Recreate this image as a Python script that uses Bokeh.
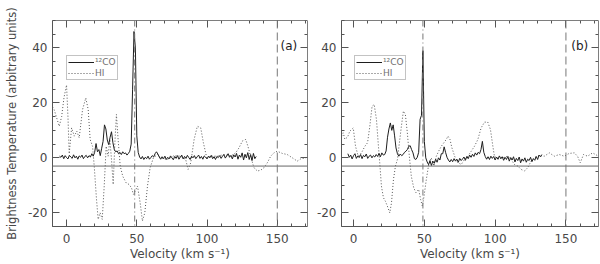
import numpy as np
from bokeh.plotting import figure
from bokeh.models import (LinearAxis, Span, Range1d, Legend, LegendItem,
                          FixedTicker, Label)
from bokeh.layouts import row
from bokeh.embed import file_html
from bokeh.resources import INLINE

FONT = "DejaVu Sans"

# ---------------- data ----------------
# 12CO spectra: channel velocities start at CO_*_START, 1 km/s channels
CO_STEP = 1.0
CO_A_START = -5.0
CO_A = [0.6, 0.2, 1.0, -0.3, 0.8, 0.1, -0.4, 0.9, 0.3, -0.2,
        1.1, 0.0, 0.6, -0.5, 0.7, 0.2, 1.0, -0.3, 0.5, 0.9,
        0.0, 0.8, 0.3, 1.5, 0.6, 2.0, 5.2, 2.2, 3.0, 0.8,
        3.5, 6.0, 12.0, 10.5, 6.5, 4.8, 7.5, 9.5, 5.5, 3.0,
        2.2, 2.5, 1.5, 2.0, 1.2, 2.2, 1.5, 1.8, 1.0, 1.6,
        2.4, 5.0, 25.0, 46.0, 40.0, 8.0, 2.0, 0.3, -0.4, 0.5,
        -0.6, 0.2, -0.3, 0.6, -0.5, 0.1, 0.8, 0.3, 1.5, 2.2,
        1.4, 0.3, -0.5, 0.4, -0.3, 0.6, -0.6, 0.2, -0.4, 0.7,
        0.0, -0.7, 0.5, -0.2, 0.8, -0.5, 0.3, 1.0, -0.4, 0.5,
        -0.2, 0.9, 0.1, -0.6, 0.6, 0.0, 0.8, -0.3, 0.4, 1.0,
        -0.2, 0.5, -0.5, 0.7, 0.2, -0.4, 0.6, 0.0, 0.9, -0.3,
        0.4, -0.6, 0.5, 0.1, 0.8, -0.2, 0.6, 1.2, -0.1, 0.7,
        1.5, 0.2, 0.9, -0.4, 1.1, 0.3, 1.6, -0.5, 1.0, 0.2,
        1.8, -0.8, 1.3, 0.0, 1.9, -0.6, 1.2, -1.0, 1.6, -0.3,
        0.5]

CO_B_START = -4.0
CO_B = [1.5, 0.2, 1.0, -0.4, 0.8, 1.5, -0.2, 0.7, 0.1, 1.2,
        -0.3, 0.9, 0.4, 1.4, -0.2, 0.6, 1.0, 0.0, 0.8, 0.3,
        1.2, 0.5, 1.6, 0.4, 1.8, 1.0, 1.2, 2.5, 7.5, 10.5,
        12.7, 10.0, 12.0, 8.0, 3.6, 1.5, 0.6, 1.4, 0.8, 1.2,
        2.0, 2.4, 3.0, 4.2, 4.4, 3.0, 1.8, -0.3, -0.6, 0.2,
        2.0, 14.0, 15.5, 39.0, 6.0, 0.0, -1.5, -2.5, -1.0, -2.8,
        -1.2, -2.0, -0.5, -1.6, 0.0, -0.8, 1.5, 1.5, 4.0, 2.0,
        0.2, -0.8, -1.5, -0.6, -1.4, -0.3, -1.2, -0.5, -1.6, -0.2,
        -1.0, -0.4, 0.3, -0.9, 0.5, -0.3, 1.0, 0.2, 1.3, 0.5,
        1.8, 1.0, 2.0, 1.5, 3.0, 6.0, 2.0, 0.5, -0.5, 0.4,
        -0.6, 0.6, -0.2, 0.5, -0.8, 0.3, -0.5, 0.7, -0.3, 0.4,
        -0.9, 0.2, -0.6, 0.5, -1.2, 0.1, -0.8, 0.4, -1.5, -0.2,
        -1.0, 0.3, -1.8, -0.4, -1.2, 0.0, -1.6, -0.5, -1.0, 0.2,
        -1.4, -0.3, -0.9, 0.5, -0.6, 1.0, 0.4, 1.2]

# HI spectra (velocity, brightness)
HI_A_V = [-10, -8.8, -7, -5.2, -3.5, -1.8, 0, 1, 1.9, 3.6, 5.5, 7.3, 9, 11.4,
          13.7, 15.4, 16.8, 18.5, 19.7, 21.3, 22.5, 23.9, 25.4, 26.8, 28.2,
          29.6, 30.8, 32, 33.2, 34.4, 35.5, 36.7, 38.2, 40, 42.4, 44.5, 46.2,
          47.6, 48.8, 50.5, 52.4, 54, 55.7, 57.6, 59.5, 61.8, 64.7, 67, 71.8,
          76.5, 81.3, 84.8, 86.5, 88.4, 90.8, 93.1, 95.5, 97.4, 99.8, 102.6,
          107.3, 112, 116.8, 120.4, 122.7, 125.1, 127.5, 129.1, 131, 133.4,
          135.8, 138.2, 140.5, 142.9, 145.3, 147.6, 150, 153.6, 157.1, 160.7,
          164.2, 166.6, 170.1, 172]
HI_A_T = [18.5, 17.5, 14.5, 11.5, 15, 22, 26.5, 15, 1.5, 10.9, 7.9, 9.7, 7.3,
          17.6, 21.8, 17.6, 6.7, 4.2, -3, -15, -22.4, -20, -22.4, -10.3, 4.2,
          0.6, 6.7, -0.6, -9.7, 5.5, 15.8, 6.7, -3, -6.7, -9.1, -9.7, -10.9,
          -13.3, -12.1, -10.3, -16.4, -23, -20, -10.3, -3.6, 0, 1.2, 0, -0.6,
          0.8, 0.6, -0.6, -4.2, -1.8, 6.7, 11.5, 10.9, 5.5, 0, 0.6,
          0.6, 1.2, 0.6, 1.8, 3.6, 6.1, 6.7, 4.2, 0.6, -3.6,
          -4.8, -4.5, -3.6, -1.8, 0.6, 1.8, 2.4, 1.6, 1.2, 0,
          -1.2, -0.4, 0, 0.3]

HI_B_V = [-8.5, -7.3, -6.1, -4.2, -2.6, -0.2, 1.4, 3.3, 5.6, 8, 9.9, 11.5, 13.1,
          14.6, 16.2, 17.4, 18.5, 19.7, 21.1, 22.5, 23.9, 25.6, 26.8, 28.2,
          29.6, 31, 32.4, 33.8, 35.2, 36.6, 38, 39.4, 40.8, 42.5, 44.1, 46,
          47.4, 48.6, 49.8, 51.4, 53.1, 54.9, 56.8, 58.5, 60.1, 62, 63.8, 65.5,
          66.7, 68.1, 69.5, 71.4, 73.7, 76.1, 78.4, 80.8, 83.1, 85.4, 87.8,
          90.1, 92.5, 94.8, 96.7, 98.4, 99.5, 101.9, 105.4, 108.9, 111.3,
          113.6, 116, 118.3, 120.7, 123, 125.4, 127.7, 131.2, 134.7, 138.3,
          141.8, 145.3, 148.8, 152.3, 155.9, 158.2, 160.1, 162.4, 165.3,
          168.8, 173]
HI_B_T = [7.9, 9.1, 6.7, 7.6, 9.7, 10.9, 4.2, 0.6, 1.8, 4.2, 5.5, 11.5, 18.8,
          19.4, 13.9, 5.5, -1.8, -10.3, -14.5, -15.8, -17.6, -20, -16.4, -7.9,
          -3, -0.6, 5.5, 11.5, 17, 15.8, 9.1, 0.6, -6.7, -10.9, -12.7, -11.5,
          -15.2, -17.6, -13.9, -7.9, -2.4, 0, -3, 0.6, 2.4, 4.2, 5.5, 6.7,
          7.9, 6.7, 3.6, 0.6, -1.8, -2.4, -0.6, 0.6, 2.4, 4.2, 6.7,
          10.9, 13, 13, 10.3, 4.2, 0.6, -0.4, 0, 0.6, -0.6,
          -2.4, -3, -4.2, -4.8, -3.6, -1.2, 0, 0.8, 0.6, 1.8,
          0.6, 1.2, 0.6, 1.6, 1.8, 0.6, -1.8, 1.2, 0.6,
          1.8, 0.6]

BASELINE = -3.0
VLINE_A = [48.5, 150.0]
VLINE_B = [49.0, 150.0]
PANEL_TAGS = ["(a)", "(b)"]
LEGEND_LABELS = ["\u00b9\u00b2CO", "HI"]
X_TICKS = [0, 50, 100, 150]
X_MINOR = list(range(-10, 180, 10))
Y_TICKS = [-20, 0, 20, 40]
Y_TICK_TEXT = {-20: "-20", 0: "0", 20: "20", 40: "40"}
Y_MINOR = list(range(-25, 55, 5))
Y_RANGE = (-25, 50)

AXIS_COL = "#555555"
TEXT_COL = "#484848"
FIG_H = 263


def style_ticks(ax):
    ax.axis_line_color = AXIS_COL
    ax.major_tick_line_color = AXIS_COL
    ax.minor_tick_line_color = AXIS_COL
    ax.major_tick_in = 7
    ax.major_tick_out = 0
    ax.minor_tick_in = 3
    ax.minor_tick_out = 0


def tick_only_axis(minors, length, loc):
    # an axis with no major ticks (so no labels), drawn on the frame edge;
    # its "minor" ticks stand in for the frame ticks on the top / right
    ax = LinearAxis(ticker=FixedTicker(ticks=[], minor_ticks=minors),
                    fixed_location=loc, major_label_standoff=0)
    style_ticks(ax)
    ax.minor_tick_in = length
    return ax


def make_panel(co_start, co_vals, hi_v, hi_t, vlines, tag, tag_x, xr, width,
               left_border, right_border, ylabel, leg_x):
    co_v = co_start + np.arange(len(co_vals)) * CO_STEP
    p = figure(width=width, height=FIG_H, output_backend="svg",
               toolbar_location=None, x_range=Range1d(*xr),
               y_range=Range1d(*Y_RANGE),
               min_border_left=left_border, min_border_right=right_border,
               min_border_top=20, min_border_bottom=36)
    p.grid.visible = False
    p.outline_line_color = None
    p.background_fill_color = "white"

    xb = p.xaxis[0]
    yl = p.yaxis[0]
    xb.ticker = FixedTicker(ticks=X_TICKS, minor_ticks=X_MINOR)
    yl.ticker = FixedTicker(ticks=Y_TICKS, minor_ticks=Y_MINOR)
    yl.major_label_overrides = Y_TICK_TEXT
    xb.axis_label = "Velocity (km s\u207b\u00b9)"
    if ylabel:
        yl.axis_label = ylabel
    for ax in (xb, yl):
        style_ticks(ax)
        ax.major_label_text_font = FONT
        ax.major_label_text_color = TEXT_COL
        ax.major_label_text_font_size = "12px"
        ax.axis_label_text_font = FONT
        ax.axis_label_text_color = TEXT_COL
        ax.axis_label_text_font_style = "normal"
    xb.major_label_standoff = 7
    xb.axis_label_standoff = 1
    xb.axis_label_text_font_size = "12px"
    yl.major_label_standoff = 5
    yl.axis_label_text_font_size = "11.5px"
    yl.axis_label_standoff = 6

    p.add_layout(tick_only_axis(X_TICKS, 7, Y_RANGE[1]), "above")
    p.add_layout(tick_only_axis(X_MINOR, 3, Y_RANGE[1]), "above")
    p.add_layout(tick_only_axis(Y_TICKS, 7, xr[1]), "right")
    p.add_layout(tick_only_axis(Y_MINOR, 3, xr[1]), "right")

    p.add_layout(Span(location=BASELINE, dimension="width",
                      line_color="#666666", line_width=1))
    p.add_layout(Span(location=vlines[0], dimension="height",
                      line_color="#777777", line_width=1,
                      line_dash="6 3 1 3"))
    p.add_layout(Span(location=vlines[1], dimension="height",
                      line_color="#777777", line_width=1, line_dash="8 4"))

    hi_r = p.line(hi_v, hi_t, line_color="#555555", line_width=1,
                  line_dash="1 2")
    co_r = p.line(co_v, co_vals, line_color="#1e1e1e", line_width=1)

    legend = Legend(items=[LegendItem(label=LEGEND_LABELS[0], renderers=[co_r]),
                           LegendItem(label=LEGEND_LABELS[1], renderers=[hi_r])],
                    location=(leg_x, 146), orientation="vertical")
    legend.label_text_font = FONT
    legend.label_text_font_size = "9px"
    legend.label_text_color = "#707070"
    legend.glyph_width = 26
    legend.glyph_height = 10
    legend.label_height = 10
    legend.label_standoff = 1
    legend.padding = 1
    legend.spacing = 1
    legend.margin = 0
    legend.border_line_color = "#888888"
    legend.background_fill_alpha = 0
    p.add_layout(legend)

    p.add_layout(Label(x=tag_x, y=40.6, text=tag, text_align="center",
                       text_baseline="middle", text_font=FONT,
                       text_font_size="12px", text_color="#222222"))
    return p


p1 = make_panel(CO_A_START, CO_A, HI_A_V, HI_A_T, VLINE_A, PANEL_TAGS[0],
                158.2, (-10, 171.5), 312, 52, 5,
                "Brightness Temperature (arbitrary units)", 14)
p2 = make_panel(CO_B_START, CO_B, HI_B_V, HI_B_T, VLINE_B, PANEL_TAGS[1],
                159.8, (-8.5, 173), 287, 29, 1, None, 13)

layout = row(p1, p2)
open("out.html", "w").write(file_html(layout, INLINE))
